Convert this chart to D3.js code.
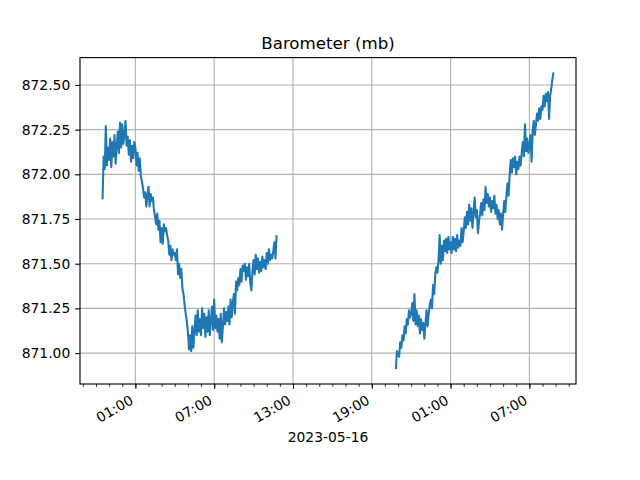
<!DOCTYPE html>
<html>
<head>
<meta charset="utf-8">
<script src="https://cdn.jsdelivr.net/npm/d3@7"></script>
<style>
  html, body { margin: 0; padding: 0; background: #fff; }
  svg { display: block; }
  text { font-family: "DejaVu Sans", sans-serif; fill: #000; }
</style>
</head>
<body>
<svg id="chart" width="640" height="480"></svg>
<script>
// ---- Data (5-minute readings, mb) ----
const title = "Barometer (mb)";
const dateLabel = "2023-05-16";
const stepMinutes = 5;
const seg1Start = Date.UTC(2023, 4, 15, 22, 30);
const seg2Start = Date.UTC(2023, 4, 16, 20, 50);

const seg1Values = [
  871.86, 872.10, 872.03, 872.27, 872.05, 872.15,
  872.08, 872.20, 872.04, 872.18, 872.10, 872.22, 872.06, 872.16, 872.24, 872.12, 872.29, 872.15,
  872.28, 872.17, 872.22, 872.30, 872.16, 872.21, 872.11, 872.19, 872.07, 872.16, 872.09, 872.18,
  872.15, 872.05, 872.12, 872.02, 872.09, 871.99, 871.96, 871.92, 871.87, 871.90, 871.82, 871.88,
  871.93, 871.82, 871.89, 871.85, 871.87, 871.80, 871.76, 871.72, 871.78, 871.69, 871.74, 871.62,
  871.70, 871.61, 871.72, 871.68, 871.70, 871.66, 871.63, 871.55, 871.60, 871.52, 871.58, 871.55,
  871.56, 871.52, 871.58, 871.44, 871.50, 871.42, 871.47, 871.36, 871.33, 871.27, 871.22, 871.18,
  871.12, 871.02, 871.10, 871.01, 871.15, 871.03, 871.13, 871.21, 871.10, 871.24, 871.12, 871.19,
  871.10, 871.25, 871.14, 871.22, 871.09, 871.20, 871.12, 871.24, 871.10, 871.18, 871.26, 871.13,
  871.30, 871.14, 871.21, 871.12, 871.19, 871.08, 871.22, 871.06, 871.15, 871.25, 871.16, 871.23,
  871.18, 871.26, 871.16, 871.30, 871.20, 871.28, 871.33, 871.22, 871.40, 871.35, 871.42, 871.38,
  871.47, 871.40, 871.49, 871.46, 871.50, 871.41, 871.48, 871.43, 871.50, 871.39, 871.35, 871.46,
  871.52, 871.44, 871.55, 871.47, 871.53, 871.45, 871.51, 871.46, 871.54, 871.48, 871.52, 871.47,
  871.56, 871.50, 871.58, 871.52, 871.55, 871.53, 871.57, 871.62, 871.53, 871.66
];

const seg2Values = [
  870.91, 871.01,
  871.00, 870.98, 871.06, 871.03, 871.10, 871.07, 871.15, 871.11, 871.19, 871.16, 871.24, 871.20,
  871.22, 871.28, 871.18, 871.33, 871.16, 871.24, 871.15, 871.21, 871.11, 871.19, 871.13, 871.17,
  871.08, 871.16, 871.24, 871.15, 871.22, 871.27, 871.30, 871.25, 871.38, 871.33, 871.44, 871.48,
  871.45, 871.52, 871.66, 871.50, 871.60, 871.52, 871.63, 871.57, 871.64, 871.56, 871.65, 871.58,
  871.62, 871.56, 871.65, 871.58, 871.64, 871.57, 871.66, 871.59, 871.63, 871.60, 871.70, 871.62,
  871.68, 871.76, 871.70, 871.79, 871.72, 871.83, 871.74, 871.81, 871.70, 871.79, 871.87, 871.76,
  871.80, 871.67, 871.74, 871.78, 871.84, 871.77, 871.86, 871.80, 871.93, 871.84, 871.89, 871.82,
  871.87, 871.79, 871.85, 871.81, 871.88, 871.78, 871.83, 871.75, 871.80, 871.72, 871.78, 871.69,
  871.77, 871.85, 871.79, 871.88, 871.95, 871.88, 872.00, 872.08, 872.01, 872.09, 872.04, 872.10,
  872.00, 872.07, 872.03, 872.10, 872.05, 872.12, 872.18, 872.10, 872.28, 872.13, 872.20, 872.12,
  872.17, 872.22, 872.07, 872.24, 872.30, 872.22, 872.28, 872.34, 872.30, 872.37, 872.31, 872.38,
  872.36, 872.44, 872.38, 872.45, 872.41, 872.46, 872.31, 872.44, 872.48, 872.53, 872.57
];

const yTickValues = [871.00, 871.25, 871.50, 871.75, 872.00, 872.25, 872.50];

// ---- Build points ----
function toPoints(start, values) {
  return values.map((v, i) => ({ t: new Date(start + i * stepMinutes * 60000), v: v }));
}
const seg1 = toPoints(seg1Start, seg1Values);
const seg2 = toPoints(seg2Start, seg2Values);
const allPts = seg1.concat(seg2);
const series = seg1.concat([{ t: new Date((seg1[seg1.length-1].t.getTime() + seg2[0].t.getTime()) / 2), v: null }], seg2);

// ---- Layout (matplotlib defaults) ----
const W = 640, H = 480;
const axL = 80, axR = 576, axT = 57.6, axB = 384;
const PT = 100 / 72;

const svg = d3.select("#chart");
svg.append("rect").attr("width", W).attr("height", H).attr("fill", "#fff");

const tExt = d3.extent(allPts, d => d.t.getTime());
const tPad = (tExt[1] - tExt[0]) * 0.05;
const vExt = d3.extent(allPts, d => d.v);
const vPad = (vExt[1] - vExt[0]) * 0.05;

const x = d3.scaleUtc().domain([new Date(tExt[0] - tPad), new Date(tExt[1] + tPad)]).range([axL, axR]);
const y = d3.scaleLinear().domain([vExt[0] - vPad, vExt[1] + vPad]).range([axB, axT]);

const minorTicks = d3.utcHour.every(1).range(x.domain()[0], x.domain()[1]);
const majorTicks = minorTicks.filter(d => (d.getUTCHours() - 1 + 24) % 6 === 0);
const fmt = d3.utcFormat("%H:%M");

// ---- Grid ----
const grid = svg.append("g");
grid.selectAll("line.gx").data(majorTicks).join("line").attr("class", "gx")
  .attr("x1", d => x(d)).attr("x2", d => x(d))
  .attr("y1", axT).attr("y2", axB)
  .attr("stroke", "#b0b0b0").attr("stroke-width", 0.8 * PT);
grid.selectAll("line.gy").data(yTickValues).join("line").attr("class", "gy")
  .attr("x1", axL).attr("x2", axR)
  .attr("y1", d => y(d)).attr("y2", d => y(d))
  .attr("stroke", "#b0b0b0").attr("stroke-width", 0.8 * PT);

// ---- Line ----
const line = d3.line().defined(d => d.v !== null).x(d => x(d.t)).y(d => y(d.v));
svg.append("path").datum(series)
  .attr("d", line)
  .attr("fill", "none")
  .attr("stroke", "#1f77b4")
  .attr("stroke-width", 1.5 * PT)
  .attr("stroke-linejoin", "round");

// ---- Axes ----
const xMinor = d3.axisBottom(x).tickValues(minorTicks).tickSize(2 * PT).tickFormat("");
const gxm = svg.append("g").attr("transform", `translate(0,${axB})`).call(xMinor);
gxm.select(".domain").remove();
gxm.selectAll("line").attr("stroke", "#000").attr("stroke-width", 0.6 * PT);

const xMajor = d3.axisBottom(x).tickValues(majorTicks).tickSize(3.5 * PT).tickFormat(fmt);
const gx = svg.append("g").attr("transform", `translate(0,${axB})`).call(xMajor);
gx.select(".domain").remove();
gx.selectAll("line").attr("stroke", "#000").attr("stroke-width", 0.8 * PT);
gx.selectAll("text")
  .attr("font-size", 10 * PT)
  .attr("font-family", "DejaVu Sans")
  .attr("text-anchor", "end")
  .attr("dy", null)
  .attr("y", null)
  .attr("transform", "translate(-1.5,19) rotate(-30)");

const yAxis = d3.axisLeft(y).tickValues(yTickValues).tickSize(3.5 * PT).tickPadding(3.5 * PT).tickFormat(d3.format(".2f"));
const gy = svg.append("g").attr("transform", `translate(${axL},0)`).call(yAxis);
gy.select(".domain").remove();
gy.selectAll("line").attr("stroke", "#000").attr("stroke-width", 0.8 * PT);
gy.selectAll("text").attr("font-size", 10 * PT).attr("font-family", "DejaVu Sans");

// spines
svg.append("rect").attr("x", axL).attr("y", axT).attr("width", axR - axL).attr("height", axB - axT)
  .attr("fill", "none").attr("stroke", "#000").attr("stroke-width", 0.8 * PT);

// ---- Labels ----
svg.append("text").attr("x", (axL + axR) / 2).attr("y", 49.3)
  .attr("text-anchor", "middle").attr("font-size", 12 * PT).text(title);
svg.append("text").attr("x", (axL + axR) / 2).attr("y", 442)
  .attr("text-anchor", "middle").attr("font-size", 10 * PT).text(dateLabel);
</script>
</body>
</html>
